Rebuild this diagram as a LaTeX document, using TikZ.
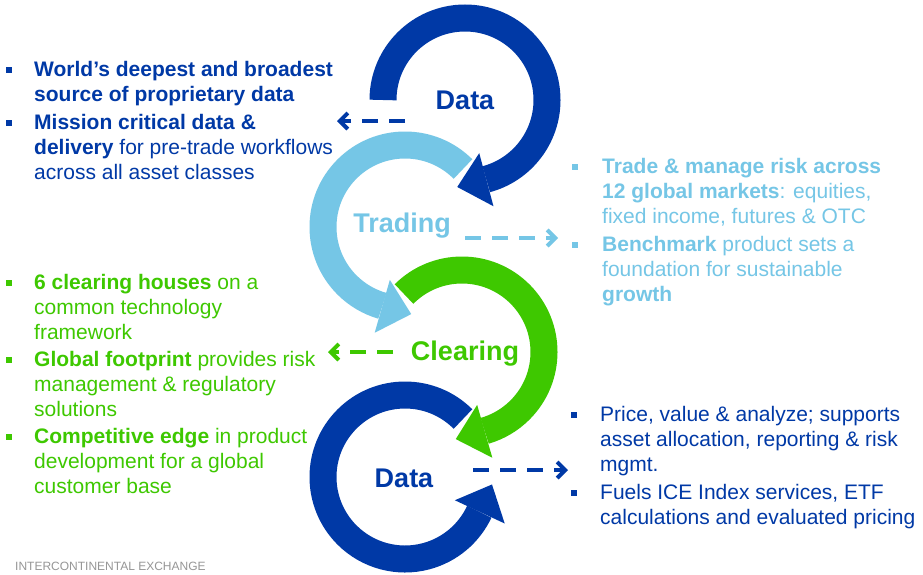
\documentclass[tikz,border=0pt]{standalone}
\usepackage{fontspec}
\setmainfont{Liberation Sans}
\usetikzlibrary{calc,arrows.meta}
\definecolor{icedark}{RGB}{0,57,166}
\definecolor{icelight}{RGB}{117,198,230}
\definecolor{icegreen}{RGB}{62,200,0}
\definecolor{icegray}{RGB}{150,150,150}

\begin{document}
\begin{tikzpicture}[x=1pt, y=1pt,
  ring/.style={line width=27pt},
  body/.style={anchor=north west, align=left, inner sep=0pt, font=\fontsize{21}{25.2}\selectfont},
  title/.style={anchor=base, inner sep=0pt, font=\fontsize{27}{30}\selectfont\bfseries},
  bul/.style={fill, minimum size=6pt, inner sep=0pt},
  link/.style={line width=4pt, dash pattern=on 16pt off 11pt, -{Straight Barb[length=8pt, width=16pt]}}]
  % Canvas
  \fill[white] (0,0) rectangle (923,-574);
  \useasboundingbox (0,0) rectangle (923,-574);

  % Ring centres
  \coordinate (dtc) at (465,-100);
  \coordinate (trc) at (405,-227);
  \coordinate (clc) at (462,-352);
  \coordinate (dbc) at (405,-477);

  % Data (top)
  \draw[ring, icedark] ($(dtc)+(180:82)$) arc[start angle=180, end angle=-75, radius=82];
  \fill[icedark] ($(dtc)+(-75:55)$) -- ($(dtc)+(-75:82)+(-165:30)$) -- ($(dtc)+(-75:110)$) -- cycle;
  % Trading
  \draw[ring, icelight] ($(trc)+(45:82)$) arc[start angle=45, end angle=254, radius=82];
  \fill[icelight] ($(trc)+(254:55)$) -- ($(trc)+(254:82)+(344:30)$) -- ($(trc)+(254:110)$) -- cycle;
  % Clearing
  \draw[ring, icegreen] ($(clc)+(135:82)$) arc[start angle=135, end angle=-74, radius=82];
  \fill[icegreen] ($(clc)+(-74:55)$) -- ($(clc)+(-74:82)+(-164:30)$) -- ($(clc)+(-74:110)$) -- cycle;
  % Data (bottom)
  \draw[ring, icedark] ($(dbc)+(45:82)$) arc[start angle=45, end angle=335, radius=82];
  \fill[icedark] ($(dbc)+(335:55)$) -- ($(dbc)+(335:82)+(65:30)$) -- ($(dbc)+(335:110)$) -- cycle;

  % Ring labels
  \node[title, icedark] (datatop) at (465,-109) {Data};
  \node[title, icelight] (trading) at (402,-232) {Trading};
  \node[title, icegreen] (clearing) at (465,-360) {Clearing};
  \node[title, icedark] (databot) at (404,-487) {Data};

  % Dashed pointers
  \coordinate (dts) at (405,-121);
  \coordinate (dte) at (337,-121);
  \coordinate (trs) at (465,-238);
  \coordinate (tre) at (558,-238);
  \coordinate (cls) at (393,-352);
  \coordinate (cle) at (328,-352);
  \coordinate (dbs) at (473,-470);
  \coordinate (dbe) at (568,-470);
  \draw[link, icedark] (dts) -- (dte);
  \draw[link, icelight] (trs) -- (tre);
  \draw[link, icegreen] (cls) -- (cle);
  \draw[link, icedark] (dbs) -- (dbe);

  % Data (top) points
  \node[body, icedark] (deepest) at (34,-61) {\textbf{World’s deepest and broadest}\\\textbf{source of proprietary data}};
  \node[body, icedark] (mission) at (34,-114) {\textbf{Mission critical data \&}\\\textbf{delivery} for pre-trade workflows\\across all asset classes};
  \node[bul, icedark] (bdeep) at ($(deepest.north west)+(-25.5,-9.1)$) {};
  \node[bul, icedark] (bmiss) at ($(mission.north west)+(-25.5,-9.1)$) {};

  % Trading points
  \node[body, icelight] (markets) at (602,-158) {\textbf{Trade \& manage risk across}\\\textbf{12 global markets}: equities,\\fixed income, futures \& OTC};
  \node[body, icelight] (bench) at (602,-236) {\textbf{Benchmark} product sets a\\foundation for sustainable\\\textbf{growth}};
  \node[bul, icelight] (bmark) at ($(markets.north west)+(-27.5,-9.1)$) {};
  \node[bul, icelight] (bbench) at ($(bench.north west)+(-27.5,-9.1)$) {};

  % Clearing points
  \node[body, icegreen] (houses) at (34,-274) {\textbf{6 clearing houses} on a\\common technology\\framework};
  \node[body, icegreen] (footprint) at (34,-351) {\textbf{Global footprint} provides risk\\management \& regulatory\\solutions};
  \node[body, icegreen] (edge) at (34,-428) {\textbf{Competitive edge} in product\\development for a global\\customer base};
  \node[bul, icegreen] (bhouse) at ($(houses.north west)+(-25.5,-9.1)$) {};
  \node[bul, icegreen] (bfoot) at ($(footprint.north west)+(-25.5,-9.1)$) {};
  \node[bul, icegreen] (bedge) at ($(edge.north west)+(-25.5,-9.1)$) {};

  % Data (bottom) points
  \node[body, icedark] (price) at (600,-406) {Price, value \& analyze; supports\\asset allocation, reporting \& risk\\mgmt.};
  \node[body, icedark] (fuels) at (600,-484) {Fuels ICE Index services, ETF\\calculations and evaluated pricing};
  \node[bul, icedark] (bprice) at ($(price.north west)+(-26,-9.1)$) {};
  \node[bul, icedark] (bfuel) at ($(fuels.north west)+(-26,-9.1)$) {};

  % Footer
  \node[anchor=base west, inner sep=0pt, icegray, font=\fontsize{12}{14}\selectfont] (footer) at (15,-570) {INTERCONTINENTAL EXCHANGE};
\end{tikzpicture}
\end{document}
